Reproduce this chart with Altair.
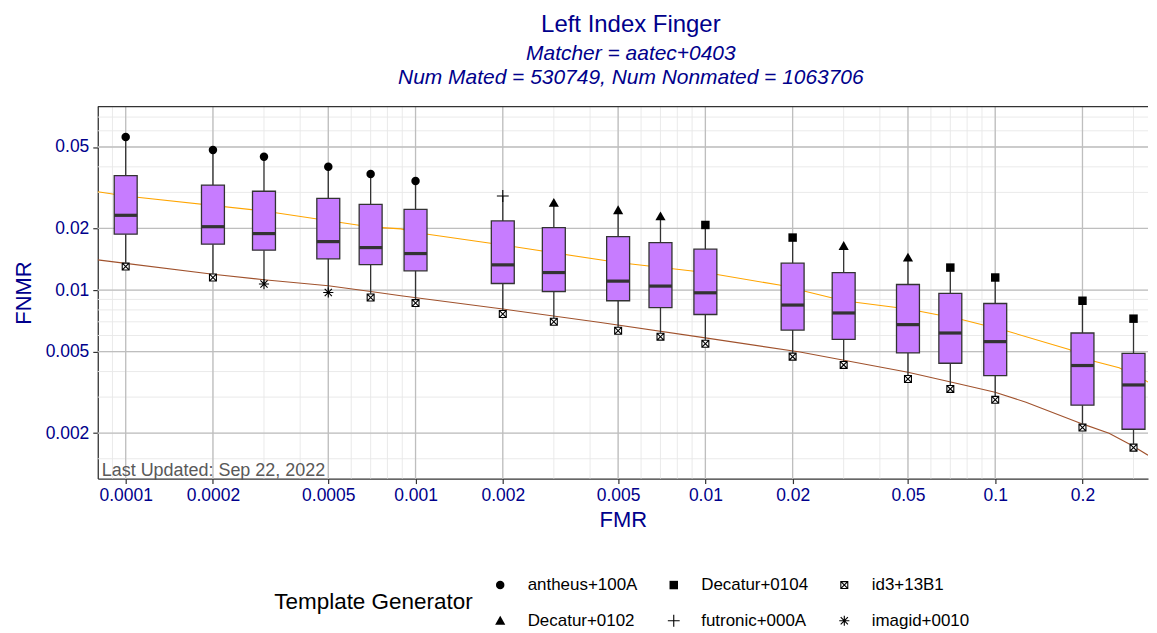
import altair as alt
import pandas as pd

# ---------------- data ----------------
fmr = [0.0001, 0.0002, 0.0003, 0.0005, 0.0007, 0.001, 0.002, 0.003, 0.005,
       0.007, 0.01, 0.02, 0.03, 0.05, 0.07, 0.1, 0.2, 0.3]
fnmr_high = [0.0560, 0.0483, 0.0448, 0.0400, 0.0369, 0.0341, 0.0288, 0.0267, 0.02455,
             0.02294, 0.0208, 0.01805, 0.01644, 0.01442, 0.01288, 0.01152, 0.00887, 0.00725]
fnmr_q3 = [0.0362, 0.0326, 0.0304, 0.02807, 0.02625, 0.0248, 0.02176, 0.02018, 0.01825,
           0.01706, 0.01585, 0.01354, 0.01218, 0.01065, 0.00963, 0.0086, 0.00617, 0.00491]
fnmr_median = [0.02319, 0.0204, 0.01888, 0.01725, 0.01613, 0.01508, 0.01328, 0.01218, 0.01106,
               0.01046, 0.0097, 0.00845, 0.00773, 0.00678, 0.00617, 0.0056, 0.00428, 0.00344]
fnmr_q1 = [0.01875, 0.01676, 0.01567, 0.01421, 0.01333, 0.01242, 0.01077, 0.00984, 0.00887,
           0.0082, 0.0076, 0.00638, 0.00574, 0.00493, 0.00439, 0.00382, 0.00274, 0.00209]
fnmr_low = [0.01303, 0.01152, 0.0107, 0.00973, 0.0092, 0.00864, 0.00764, 0.0070, 0.00633,
            0.00592, 0.00547, 0.00473, 0.00431, 0.00368, 0.00329, 0.00291, 0.00213, 0.0017]
gen_high = ["antheus+100A"] * 6 + ["futronic+000A", "Decatur+0102", "Decatur+0102",
            "Decatur+0102", "Decatur+0104", "Decatur+0104", "Decatur+0102", "Decatur+0102",
            "Decatur+0104", "Decatur+0104", "Decatur+0104", "Decatur+0104"]
gen_low = ["id3+13B1", "id3+13B1", "imagid+0010", "imagid+0010"] + ["id3+13B1"] * 14

orange_fmr = [0.0000801, 0.0001, 0.0003, 0.0007, 0.00089, 0.001, 0.002, 0.005, 0.01, 0.018,
              0.03, 0.05, 0.0753, 0.109, 0.18, 0.216, 0.2676, 0.3306, 0.3366]
orange_fnmr = [0.0302, 0.0288, 0.02435, 0.02035, 0.0199, 0.0191, 0.0166, 0.01363, 0.01218, 0.01058,
               0.00887, 0.00808, 0.00722, 0.00633, 0.00512, 0.00452, 0.00417, 0.00361, 0.00355]
brown_fmr = [0.0000801, 0.0001, 0.0002, 0.0003, 0.0005, 0.0007, 0.00089, 0.002, 0.00435, 0.01,
             0.0212, 0.05, 0.0753, 0.0999, 0.1277, 0.1998, 0.247, 0.2966, 0.3366]
brown_fnmr = [0.01405, 0.0135, 0.01196, 0.01123, 0.0105, 0.00985, 0.00938, 0.00808, 0.00695,
              0.00584, 0.00498, 0.00397, 0.00348, 0.00317, 0.00283, 0.00222, 0.0020,
              0.00174, 0.00156]

legend_order = ["antheus+100A", "Decatur+0104", "id3+13B1",
                "Decatur+0102", "futronic+000A", "imagid+0010"]

x_major = [0.0001, 0.0002, 0.0005, 0.001, 0.002, 0.005, 0.01, 0.02, 0.05, 0.1, 0.2]
y_major = [0.002, 0.005, 0.01, 0.02, 0.05]
x_minor = [0.00009, 0.0001, 0.0002, 0.0003, 0.0004, 0.0005, 0.0006, 0.0007, 0.0008, 0.0009,
           0.001, 0.002, 0.003, 0.004, 0.005, 0.006, 0.007, 0.008, 0.009,
           0.01, 0.02, 0.03, 0.04, 0.05, 0.06, 0.07, 0.08, 0.09,
           0.1, 0.2, 0.3]
y_minor = [0.0015, 0.002, 0.003, 0.004, 0.005, 0.006, 0.007, 0.008, 0.009,
           0.01, 0.02, 0.03, 0.04, 0.05, 0.06, 0.07]

# ---------------- tables ----------------
box_df = pd.DataFrame({"fmr": fmr, "high": fnmr_high, "q3": fnmr_q3, "median": fnmr_median,
                       "q1": fnmr_q1, "low": fnmr_low})
pts_df = pd.DataFrame({"fmr": fmr + fmr, "fnmr": fnmr_high + fnmr_low, "gen": gen_high + gen_low})
orange_df = pd.DataFrame({"fmr": orange_fmr, "fnmr": orange_fnmr})
brown_df = pd.DataFrame({"fmr": brown_fmr, "fnmr": brown_fnmr})

W, H = 1053, 373
BLUE = "#00008B"
FONT = "Liberation Sans"
xs = alt.Scale(type="log", domain=[0.0000801, 0.3366], nice=False)
ys = alt.Scale(type="log", domain=[0.0012, 0.0788], nice=False)

axis_common = dict(grid=False, labelColor=BLUE, titleColor=BLUE, labelFontSize=17.5,
                   titleFontSize=22, labelFont=FONT, titleFont=FONT, titleFontWeight="normal",
                   tickColor="#333333", tickWidth=1.2, tickSize=5, domainColor="#333333",
                   domainWidth=1.3, labelFlush=False, format="~g")
XAX = alt.Axis(values=x_major, title="FMR", labelPadding=3, titlePadding=6, **axis_common)
YAX = alt.Axis(values=y_major, title="FNMR", labelPadding=4, titlePadding=10, **axis_common)


def X(field):
    return alt.X(field, scale=xs, axis=XAX)


def Y(field):
    return alt.Y(field, scale=ys, axis=YAX)


box_x = "datum.fmr / 1.0954"
box_x2 = "datum.fmr * 1.0954"

grid_minor_x = alt.Chart(pd.DataFrame({"v": x_minor})).mark_rule(
    color="#E8E8E8", strokeWidth=0.9).encode(x=X("v:Q"))
grid_minor_y = alt.Chart(pd.DataFrame({"v": y_minor})).mark_rule(
    color="#E8E8E8", strokeWidth=0.9).encode(y=Y("v:Q"))
grid_major_x = alt.Chart(pd.DataFrame({"v": x_major})).mark_rule(
    color="#BEBEBE", strokeWidth=1.3).encode(x=X("v:Q"))
grid_major_y = alt.Chart(pd.DataFrame({"v": y_major})).mark_rule(
    color="#BEBEBE", strokeWidth=1.3).encode(y=Y("v:Q"))

orange = alt.Chart(orange_df).mark_line(color="#FFA500", strokeWidth=1.1, clip=True).encode(
    x=X("fmr:Q"), y=Y("fnmr:Q"))
brown = alt.Chart(brown_df).mark_line(color="#A0522D", strokeWidth=1.1, clip=True).encode(
    x=X("fmr:Q"), y=Y("fnmr:Q"))

base = alt.Chart(box_df)
whisk_hi = base.mark_rule(color="#333333", strokeWidth=1.3).encode(
    x=X("fmr:Q"), y=Y("q3:Q"), y2="high:Q")
whisk_lo = base.mark_rule(color="#333333", strokeWidth=1.3).encode(
    x=X("fmr:Q"), y=Y("low:Q"), y2="q1:Q")
boxes = base.transform_calculate(xl=box_x, xr=box_x2).mark_rect(
    fill="#C77CFF", stroke="#333333", strokeWidth=1.3).encode(
    x=X("xl:Q"), x2="xr:Q", y=Y("q1:Q"), y2="q3:Q")
medians = base.transform_calculate(xl=box_x, xr=box_x2).mark_rule(
    color="#333333", strokeWidth=3.2).encode(
    x=X("xl:Q"), x2="xr:Q", y=Y("median:Q"))

# all symbols are filled outlines so they show the same in the plot and the legend
diag = ("M-0.758,-0.942L0.942,0.758L0.758,0.942L-0.942,-0.758Z"
        "M-0.942,0.758L0.758,-0.942L0.942,-0.758L-0.758,0.942Z")
shape_range = [
    "circle",
    "square",
    "M-0.95,-0.95H0.95V0.95H-0.95Z" "M-0.69,-0.69V0.69H0.69V-0.69Z" + diag,
    "M0,-1.15L1.2,0.95L-1.2,0.95Z",
    "M-1.4,-0.13H-0.13V-1.4H0.13V-0.13H1.4V0.13H0.13V1.4H-0.13V0.13H-1.4Z",
    "M-1.2,-0.13H1.2V0.13H-1.2Z" "M-0.13,-1.2H0.13V1.2H-0.13Z" + diag,
]

# white backing for the boxed-x symbol
backing = alt.Chart(pts_df).transform_filter(alt.datum.gen == "id3+13B1").mark_point(
    shape="square", filled=True, size=60, opacity=1, color="white").encode(
    x=X("fmr:Q"), y=Y("fnmr:Q"))

points = alt.Chart(pts_df).mark_point(filled=True, size=72, opacity=1, color="black",
                                      strokeWidth=0).encode(
    x=X("fmr:Q"),
    y=Y("fnmr:Q"),
    shape=alt.Shape("gen:N", scale=alt.Scale(domain=legend_order, range=shape_range),
                    legend=alt.Legend(title="Template Generator")),
)

note = alt.Chart(pd.DataFrame({"t": ["Last Updated: Sep 22, 2022"]})).mark_text(
    align="left", baseline="alphabetic", fontSize=18, font=FONT, color="#595959").encode(
    text="t:N", x=alt.value(4), y=alt.value(H - 3))

top_border = alt.Chart(pd.DataFrame({"t": [0]})).mark_rule(color="#333333", strokeWidth=1.3).encode(
    x=alt.value(0), x2=alt.value(W), y=alt.value(0))

chart = alt.layer(
    grid_minor_x, grid_minor_y, grid_major_x, grid_major_y,
    orange, brown, whisk_hi, whisk_lo, boxes, medians, backing, points, note, top_border
).properties(
    width=W, height=H,
    padding={"left": 4, "top": 4, "right": 0, "bottom": 0},
    title=alt.TitleParams(
        text="Left Index Finger",
        subtitle=["Matcher = aatec+0403", "Num Mated = 530749, Num Nonmated = 1063706"],
        fontSize=24, subtitleFontSize=21, subtitleFontStyle="italic",
        font=FONT, subtitleFont=FONT, fontWeight="normal",
        color=BLUE, subtitleColor=BLUE, anchor="middle", dx=8,
        subtitlePadding=6, subtitleLineHeight=24, offset=18),
).configure_view(stroke=None).configure_legend(
    orient="none", legendX=177, legendY=471, direction="horizontal", columns=3,
    titleOrient="left", titleFontSize=22.5, titleFont=FONT, titleFontWeight="normal",
    titleColor="black", titleAnchor="middle", titleBaseline="middle", titlePadding=19,
    titleLimit=400,
    labelFontSize=17, labelFont=FONT, labelColor="black", labelOffset=19,
    symbolSize=72, symbolFillColor="black", symbolStrokeWidth=0, symbolOpacity=1,
    columnPadding=27, rowPadding=18, gridAlign="each",
)

chart.save("out.html", embed_options={"renderer": "svg", "actions": False})
